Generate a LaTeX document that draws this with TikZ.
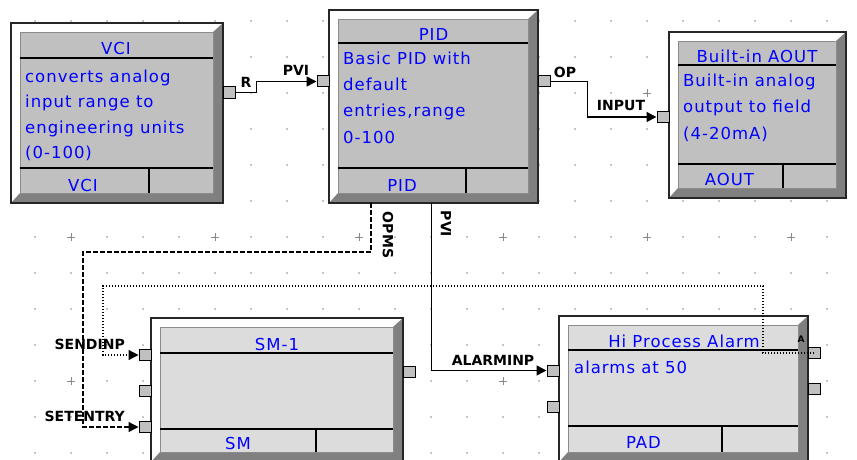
\documentclass[tikz,border=0pt]{standalone}
\usepackage{fontspec}
\setmainfont{DejaVu Sans}
\newfontfamily\blkfont[LetterSpace=6]{DejaVu Sans}
\usetikzlibrary{arrows.meta,calc}
\definecolor{fcblue}{HTML}{0000FF}
\definecolor{fcgray}{HTML}{C0C0C0}
\definecolor{fclight}{HTML}{DCDCDC}
\definecolor{fcshade}{HTML}{808080}
\definecolor{fcdot}{HTML}{8C8C8C}

% block: name, x1, y1, x2, y2, panel colour, title line, footer line, divider
\newcommand{\fcblock}[9]{%
  \fill[white] (#2,#3) rectangle (#4,#5);
  \fill[fcshade] (#4,#3) -- (#4,#5) -- (#2,#5) -- ({#2+9},{#5-10})
    -- ({#4-10},{#5-10}) -- ({#4-10},{#3+9}) -- cycle;
  \draw[line width=1.3pt, black!85] (#2,#3) rectangle (#4,#5);
  \draw[line width=0.8pt, black!45, fill=#6] ({#2+9},{#3+9}) rectangle ({#4-10},{#5-10});
  \draw[line width=1.3pt] ({#2+9},#7) -- ({#4-10},#7)
    ({#2+9},#8) -- ({#4-10},#8) (#9,#8) -- (#9,{#5-10});
  \node[minimum width={#4-#2}, minimum height={#5-#3}, inner sep=0] (#1)
    at ({(#2+#4)/2},{(#3+#5)/2}) {};
}

\begin{document}
\begin{tikzpicture}[x=1pt, y=-1pt,
  fcport/.style={draw, line width=1pt, fill=fcgray, minimum width=12pt,
    minimum height=11pt, inner sep=0},
  fctext/.style={font=\blkfont\fontsize{16.5}{20}\selectfont, text=fcblue, inner sep=0},
  pinlabel/.style={font=\bfseries\fontsize{14}{16}\selectfont, inner sep=0},
  wire/.style={line width=1.5pt},
  fcarrow/.style={-{Triangle[length=10pt,width=10pt]}}]
  \useasboundingbox (0,0) rectangle (857,460);
  \clip (0,0) rectangle (857,460);

  % grid
  \foreach \i in {0,...,23}
    \foreach \j in {0,...,12}
      \fill[fcdot] ({35+36*\i},{21+36*\j}) circle (0.9);
  \foreach \i in {1,5,...,21}
    \foreach \j in {2,6,10}
      \draw[fcdot, line width=1pt] ({31+36*\i},{21+36*\j}) -- ++(8,0)
        ({35+36*\i},{17+36*\j}) -- ++(0,8);

  % blocks
  \fcblock{vci}{11}{23}{223}{203}{fcgray}{58}{168}{149}
  \fcblock{pid}{329}{10}{538}{203}{fcgray}{43}{168}{466}
  \fcblock{aout}{669}{32}{846}{198}{fcgray}{65}{164}{783}
  \fcblock{sm}{151}{318}{403}{462}{fclight}{353}{429}{316}
  \fcblock{pad}{559}{316}{808}{462}{fclight}{350}{426}{722}

  % ports
  \node[fcport] (vci-out) at (229,92.5) {};
  \node[fcport] (pid-in) at (323,81.5) {};
  \node[fcport] (pid-out) at (544,81.5) {};
  \node[fcport] (aout-in) at (663,117) {};
  \node[fcport] (sm-in1) at (145,355) {};
  \node[fcport] (sm-in2) at (145,391) {};
  \node[fcport] (sm-in3) at (145,427) {};
  \node[fcport] (sm-out) at (409,372) {};
  \node[fcport] (pad-in1) at (553,370.5) {};
  \node[fcport] (pad-in2) at (553,407) {};
  \node[fcport] (pad-out1) at (814,353) {};
  \node[fcport] (pad-out2) at (814,388.5) {};

  % wires
  \coordinate (opms-turn) at (83,252);
  \coordinate (send-turn) at (103,286);
  \draw[wire, fcarrow] (vci-out.east) -| ([xshift=-60]pid-in.west) -- (pid-in.west);
  \draw[wire, fcarrow] (pid-out.east) -| ([xshift=-69]aout-in.west) -- (aout-in.west);
  \draw[wire, fcarrow] ([xshift=-2]pid.south) |- (pad-in1.west);
  \draw[line width=1.3pt, dash pattern=on 4.5pt off 2.5pt, fcarrow]
    ([xshift=-62.5]pid.south) |- (opms-turn) |- (sm-in3.west);
  \draw[line width=1.3pt, dash pattern=on 1.4pt off 1.6pt, fcarrow]
    (pad-out1.center) -- ([xshift=-51]pad-out1.center) |- (send-turn) |- (sm-in1.west);

  % pin labels
  \node[pinlabel] (r-lbl) at (246,82.5) {R};
  \node[pinlabel] (pvi-lbl) at (296,70) {PVI};
  \node[pinlabel] (op-lbl) at (565,72) {OP};
  \node[pinlabel] (input-lbl) at (621,105.5) {INPUT};
  \node[pinlabel, anchor=east] (sendinp-lbl) at (125,344) {SENDINP};
  \node[pinlabel, anchor=east] (setentry-lbl) at (125,416) {SETENTRY};
  \node[pinlabel] (alarminp-lbl) at (493,360) {ALARMINP};
  \node[pinlabel, rotate=-90] (opms-lbl) at (388,235) {OPMS};
  \node[pinlabel, rotate=-90] (pvi2-lbl) at (446,224) {PVI};
  \node[pinlabel, font=\bfseries\fontsize{9}{10}\selectfont] (a-lbl) at (801,339) {A};

  % block texts
  \node[fctext, anchor=base] (vci-title) at (116,55) {VCI};
  \foreach \txt [count=\k] in {converts analog,input range to,engineering units,{(0-100)}}
    \node[fctext, anchor=base west] (vci-l\k) at (25,{82+25.6*(\k-1)}) {\txt};
  \node[fctext, anchor=base] (vci-foot) at (83,191) {VCI};

  \node[fctext, anchor=base] (pid-title) at (433.5,41) {PID};
  \foreach \txt [count=\k] in {Basic PID with,default,{entries,range},0-100}
    \node[fctext, anchor=base west] (pid-l\k) at (343,{65+26*(\k-1)}) {\txt};
  \node[fctext, anchor=base] (pid-foot) at (402,191) {PID};

  \node[fctext, anchor=base] (aout-title) at (757,63) {Built-in AOUT};
  \foreach \txt [count=\k] in {Built-in analog,output to field,{(4-20mA)}}
    \node[fctext, anchor=base west] (aout-l\k) at (683,{87+26*(\k-1)}) {\txt};
  \node[fctext, anchor=base] (aout-foot) at (729.5,185) {AOUT};

  \node[fctext, anchor=base] (sm-title) at (277,350) {SM-1};
  \node[fctext, anchor=base] (sm-foot) at (238,449) {SM};

  \node[fctext, anchor=base] (pad-title) at (684,347) {Hi Process Alarm};
  \node[fctext, anchor=base west] (pad-l1) at (574,373) {alarms at 50};
  \node[fctext, anchor=base] (pad-foot) at (643.5,448) {PAD};
\end{tikzpicture}
\end{document}
